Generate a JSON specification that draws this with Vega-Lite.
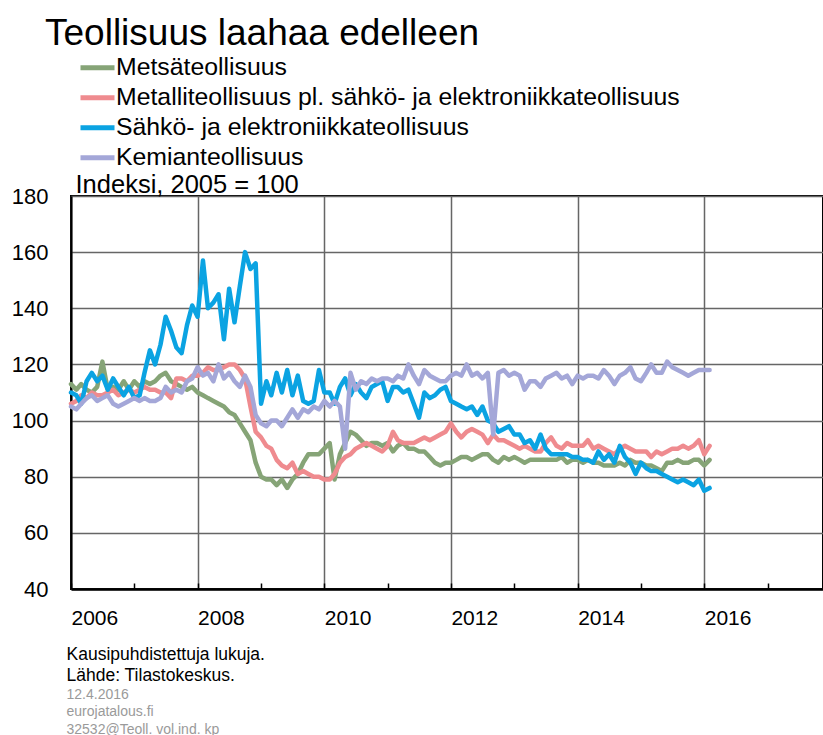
{
  "$schema": "https://vega.github.io/schema/vega-lite/v6.json",
  "width": 752,
  "height": 393,
  "autosize": {"type": "none"},
  "padding": {"left": 71, "top": 196, "right": 0, "bottom": 146},
  "background": "white",
  "config": {"view": {"stroke": "black", "strokeWidth": 2}, "font": "Liberation Sans"},
  "title": {"text": "Teollisuus laahaa edelleen", "anchor": "start", "frame": "group", "dx": -26, "dy": 39, "offset": 10, "fontSize": 37, "fontWeight": "normal", "color": "black", "font": "Liberation Sans", "baseline": "alphabetic"},
  "data": {"values": [
    {"t":"2006-01","a":113,"b":106,"c":110,"k":105},
    {"t":"2006-02","a":111,"b":107,"c":109,"k":104},
    {"t":"2006-03","a":113,"b":109,"c":106,"k":106},
    {"t":"2006-04","a":111,"b":108,"c":114,"k":108},
    {"t":"2006-05","a":110,"b":110,"c":117,"k":109},
    {"t":"2006-06","a":112,"b":109,"c":114,"k":107},
    {"t":"2006-07","a":121,"b":109,"c":116,"k":108},
    {"t":"2006-08","a":111,"b":110,"c":111,"k":109},
    {"t":"2006-09","a":112,"b":111,"c":115,"k":106},
    {"t":"2006-10","a":111,"b":109,"c":112,"k":105},
    {"t":"2006-11","a":114,"b":110,"c":109,"k":106},
    {"t":"2006-12","a":111,"b":111,"c":112,"k":107},
    {"t":"2007-01","a":114,"b":110,"c":108,"k":108},
    {"t":"2007-02","a":112,"b":111,"c":109,"k":107},
    {"t":"2007-03","a":114,"b":112,"c":117,"k":108},
    {"t":"2007-04","a":113,"b":111,"c":125,"k":107},
    {"t":"2007-05","a":114,"b":111,"c":120,"k":107},
    {"t":"2007-06","a":116,"b":110,"c":127,"k":108},
    {"t":"2007-07","a":117,"b":110,"c":137,"k":112},
    {"t":"2007-08","a":114,"b":108,"c":132,"k":110},
    {"t":"2007-09","a":113,"b":115,"c":126,"k":111},
    {"t":"2007-10","a":112,"b":115,"c":124,"k":110},
    {"t":"2007-11","a":111,"b":114,"c":134,"k":114},
    {"t":"2007-12","a":112,"b":116,"c":141,"k":115},
    {"t":"2008-01","a":110,"b":116,"c":137,"k":119},
    {"t":"2008-02","a":109,"b":117,"c":157,"k":116},
    {"t":"2008-03","a":108,"b":119,"c":140,"k":117},
    {"t":"2008-04","a":107,"b":118,"c":142,"k":114},
    {"t":"2008-05","a":106,"b":118,"c":145,"k":120},
    {"t":"2008-06","a":105,"b":119,"c":129,"k":115},
    {"t":"2008-07","a":103,"b":120,"c":147,"k":117},
    {"t":"2008-08","a":102,"b":120,"c":135,"k":114},
    {"t":"2008-09","a":99,"b":118,"c":148,"k":112},
    {"t":"2008-10","a":96,"b":115,"c":160,"k":116},
    {"t":"2008-11","a":93,"b":105,"c":154,"k":112},
    {"t":"2008-12","a":85,"b":96,"c":156,"k":102},
    {"t":"2009-01","a":80,"b":94,"c":106,"k":99},
    {"t":"2009-02","a":79,"b":91,"c":114,"k":98},
    {"t":"2009-03","a":79,"b":90,"c":109,"k":100},
    {"t":"2009-04","a":77,"b":86,"c":117,"k":100},
    {"t":"2009-05","a":79,"b":84,"c":110,"k":98},
    {"t":"2009-06","a":76,"b":83,"c":118,"k":101},
    {"t":"2009-07","a":79,"b":85,"c":109,"k":104},
    {"t":"2009-08","a":81,"b":81,"c":116,"k":101},
    {"t":"2009-09","a":85,"b":82,"c":107,"k":104},
    {"t":"2009-10","a":88,"b":81,"c":106,"k":103},
    {"t":"2009-11","a":88,"b":80,"c":107,"k":105},
    {"t":"2009-12","a":88,"b":80,"c":118,"k":104},
    {"t":"2010-01","a":90,"b":79,"c":110,"k":107},
    {"t":"2010-02","a":92,"b":79,"c":110,"k":105},
    {"t":"2010-03","a":79,"b":81,"c":106,"k":107},
    {"t":"2010-04","a":88,"b":85,"c":112,"k":105},
    {"t":"2010-05","a":92,"b":87,"c":115,"k":90},
    {"t":"2010-06","a":96,"b":88,"c":109,"k":117},
    {"t":"2010-07","a":95,"b":90,"c":113,"k":111},
    {"t":"2010-08","a":93,"b":91,"c":110,"k":114},
    {"t":"2010-09","a":91,"b":92,"c":108,"k":113},
    {"t":"2010-10","a":92,"b":91,"c":112,"k":115},
    {"t":"2010-11","a":92,"b":90,"c":113,"k":114},
    {"t":"2010-12","a":91,"b":89,"c":114,"k":115},
    {"t":"2011-01","a":92,"b":91,"c":107,"k":115},
    {"t":"2011-02","a":89,"b":96,"c":112,"k":114},
    {"t":"2011-03","a":91,"b":93,"c":112,"k":116},
    {"t":"2011-04","a":92,"b":92,"c":110,"k":115},
    {"t":"2011-05","a":90,"b":92,"c":111,"k":120},
    {"t":"2011-06","a":90,"b":92,"c":106,"k":116},
    {"t":"2011-07","a":89,"b":93,"c":101,"k":113},
    {"t":"2011-08","a":89,"b":94,"c":110,"k":118},
    {"t":"2011-09","a":87,"b":93,"c":108,"k":116},
    {"t":"2011-10","a":85,"b":94,"c":109,"k":115},
    {"t":"2011-11","a":84,"b":95,"c":111,"k":114},
    {"t":"2011-12","a":85,"b":96,"c":112,"k":114},
    {"t":"2012-01","a":85,"b":99,"c":107,"k":116},
    {"t":"2012-02","a":86,"b":96,"c":106,"k":117},
    {"t":"2012-03","a":87,"b":94,"c":105,"k":116},
    {"t":"2012-04","a":87,"b":96,"c":104,"k":120},
    {"t":"2012-05","a":86,"b":97,"c":105,"k":116},
    {"t":"2012-06","a":87,"b":96,"c":102,"k":117},
    {"t":"2012-07","a":88,"b":95,"c":105,"k":115},
    {"t":"2012-08","a":88,"b":92,"c":100,"k":117},
    {"t":"2012-09","a":86,"b":95,"c":99,"k":95},
    {"t":"2012-10","a":85,"b":93,"c":96,"k":117},
    {"t":"2012-11","a":87,"b":93,"c":97,"k":118},
    {"t":"2012-12","a":86,"b":92,"c":98,"k":116},
    {"t":"2013-01","a":87,"b":91,"c":95,"k":117},
    {"t":"2013-02","a":86,"b":90,"c":95,"k":116},
    {"t":"2013-03","a":85,"b":91,"c":92,"k":111},
    {"t":"2013-04","a":86,"b":90,"c":93,"k":114},
    {"t":"2013-05","a":86,"b":89,"c":90,"k":114},
    {"t":"2013-06","a":86,"b":89,"c":95,"k":112},
    {"t":"2013-07","a":86,"b":92,"c":90,"k":115},
    {"t":"2013-08","a":86,"b":94,"c":88,"k":116},
    {"t":"2013-09","a":86,"b":91,"c":88,"k":117},
    {"t":"2013-10","a":87,"b":90,"c":88,"k":115},
    {"t":"2013-11","a":85,"b":92,"c":88,"k":116},
    {"t":"2013-12","a":86,"b":91,"c":87,"k":113},
    {"t":"2014-01","a":86,"b":91,"c":87,"k":116},
    {"t":"2014-02","a":85,"b":91,"c":86,"k":115},
    {"t":"2014-03","a":86,"b":93,"c":86,"k":116},
    {"t":"2014-04","a":85,"b":90,"c":85,"k":116},
    {"t":"2014-05","a":85,"b":91,"c":89,"k":115},
    {"t":"2014-06","a":84,"b":90,"c":86,"k":118},
    {"t":"2014-07","a":84,"b":89,"c":88,"k":116},
    {"t":"2014-08","a":84,"b":88,"c":85,"k":113},
    {"t":"2014-09","a":85,"b":90,"c":91,"k":116},
    {"t":"2014-10","a":84,"b":91,"c":87,"k":117},
    {"t":"2014-11","a":86,"b":90,"c":85,"k":119},
    {"t":"2014-12","a":85,"b":89,"c":81,"k":115},
    {"t":"2015-01","a":85,"b":89,"c":85,"k":114},
    {"t":"2015-02","a":84,"b":89,"c":83,"k":117},
    {"t":"2015-03","a":84,"b":87,"c":82,"k":120},
    {"t":"2015-04","a":83,"b":89,"c":82,"k":117},
    {"t":"2015-05","a":82,"b":88,"c":81,"k":117},
    {"t":"2015-06","a":85,"b":89,"c":80,"k":121},
    {"t":"2015-07","a":85,"b":90,"c":79,"k":119},
    {"t":"2015-08","a":86,"b":90,"c":78,"k":118},
    {"t":"2015-09","a":85,"b":91,"c":79,"k":117},
    {"t":"2015-10","a":85,"b":90,"c":78,"k":116},
    {"t":"2015-11","a":86,"b":91,"c":77,"k":117},
    {"t":"2015-12","a":86,"b":93,"c":79,"k":118},
    {"t":"2016-01","a":84,"b":88,"c":75,"k":118},
    {"t":"2016-02","a":86,"b":91,"c":76,"k":118}
  ]},
  "transform": [{"fold": ["a", "b", "c", "k"], "as": ["s", "v"]}],
  "layer": [
    {
      "mark": {"type": "line", "strokeWidth": 4.5, "strokeJoin": "round", "strokeCap": "round"},
      "encoding": {
        "x": {
          "field": "t", "type": "temporal",
          "scale": {"type": "utc", "domain": [{"year": 2006, "month": 1, "date": 1, "utc": true}, {"year": 2017, "month": 11, "date": 16, "utc": true}]},
          "axis": {
            "values": [{"year": 2006, "utc": true}, {"year": 2007, "utc": true}, {"year": 2008, "utc": true}, {"year": 2009, "utc": true}, {"year": 2010, "utc": true}, {"year": 2011, "utc": true}, {"year": 2012, "utc": true}, {"year": 2013, "utc": true}, {"year": 2014, "utc": true}, {"year": 2015, "utc": true}, {"year": 2016, "utc": true}, {"year": 2017, "utc": true}],
            "labelExpr": "utcyear(datum.value) % 2 === 0 ? utcFormat(datum.value, '%Y') : ''",
            "labelAlign": "left", "labelBaseline": "top", "labelPadding": 24, "labelFontSize": 21, "labelColor": "black", "labelFont": "Liberation Sans", "labelOverlap": false, "labelFlush": false,
            "tickSize": -6, "tickColor": "black", "tickWidth": 1.5,
            "domainColor": "black", "domainWidth": 2.5,
            "grid": true, "gridColor": "#666666", "gridWidth": 1.5,
            "gridOpacity": {"condition": {"test": "utcyear(datum.value) % 2 === 0", "value": 1}, "value": 0},
            "title": ["Kausipuhdistettuja lukuja.", "Lähde: Tilastokeskus."],
            "titleX": -5, "titleY": 70, "titleAlign": "left", "titleAnchor": "start", "titleBaseline": "alphabetic", "titleFontSize": 17.5, "titleFontWeight": "normal", "titleColor": "black", "titleFont": "Liberation Sans", "titleLineHeight": 21
          }
        },
        "y": {
          "field": "v", "type": "quantitative",
          "scale": {"domain": [40, 180], "nice": false, "zero": false},
          "axis": {
            "values": [40, 60, 80, 100, 120, 140, 160, 180],
            "labelFontSize": 22, "labelPadding": 23, "labelColor": "black", "labelFont": "Liberation Sans", "labelBaseline": "middle",
            "ticks": false,
            "domainColor": "black", "domainWidth": 2,
            "grid": true, "gridColor": "#666666", "gridWidth": 1.5,
            "title": "Indeksi, 2005 = 100", "titleAngle": 0, "titleAlign": "left", "titleAnchor": "start", "titleBaseline": "alphabetic",
            "titleX": 4, "titleY": -4, "titleFontSize": 25.5, "titleFontWeight": "normal", "titleColor": "black", "titleFont": "Liberation Sans"
          }
        },
        "color": {
          "field": "s", "type": "nominal",
          "scale": {"domain": ["a", "b", "c", "k"], "range": ["#86a477", "#ef8b8f", "#0ba3e2", "#a4a7d8"]},
          "legend": {
            "orient": "none", "legendX": 7, "legendY": -143, "title": null, "padding": 0,
            "symbolType": "stroke", "symbolStrokeWidth": 5, "symbolSize": 1156,
            "labelFontSize": 24.8, "labelFont": "Liberation Sans", "labelColor": "black", "labelLimit": 900, "labelOffset": -1, "rowPadding": 0, "clipHeight": 29.5,
            "labelExpr": "datum.label == 'a' ? 'Metsäteollisuus' : datum.label == 'b' ? 'Metalliteollisuus pl. sähkö- ja elektroniikkateollisuus' : datum.label == 'c' ? 'Sähkö- ja elektroniikkateollisuus' : 'Kemianteollisuus'"
          }
        }
      }
    },
    {
      "mark": {"type": "rule", "opacity": 0},
      "encoding": {
        "y": {
          "aggregate": "max", "field": "v", "type": "quantitative",
          "axis": {
            "orient": "right", "labels": false, "ticks": false, "domain": false, "grid": false,
            "title": ["12.4.2016", "eurojatalous.fi", "32532@Teoll. vol.ind. kp"],
            "titleAngle": 0, "titleAlign": "left", "titleAnchor": "start", "titleBaseline": "alphabetic",
            "titleX": -757, "titleY": 502, "titleFontSize": 14, "titleFontWeight": "normal", "titleColor": "#9a9a9a", "titleFont": "Liberation Sans", "titleLineHeight": 17.5
          }
        }
      }
    }
  ],
  "resolve": {"axis": {"y": "independent"}}
}
